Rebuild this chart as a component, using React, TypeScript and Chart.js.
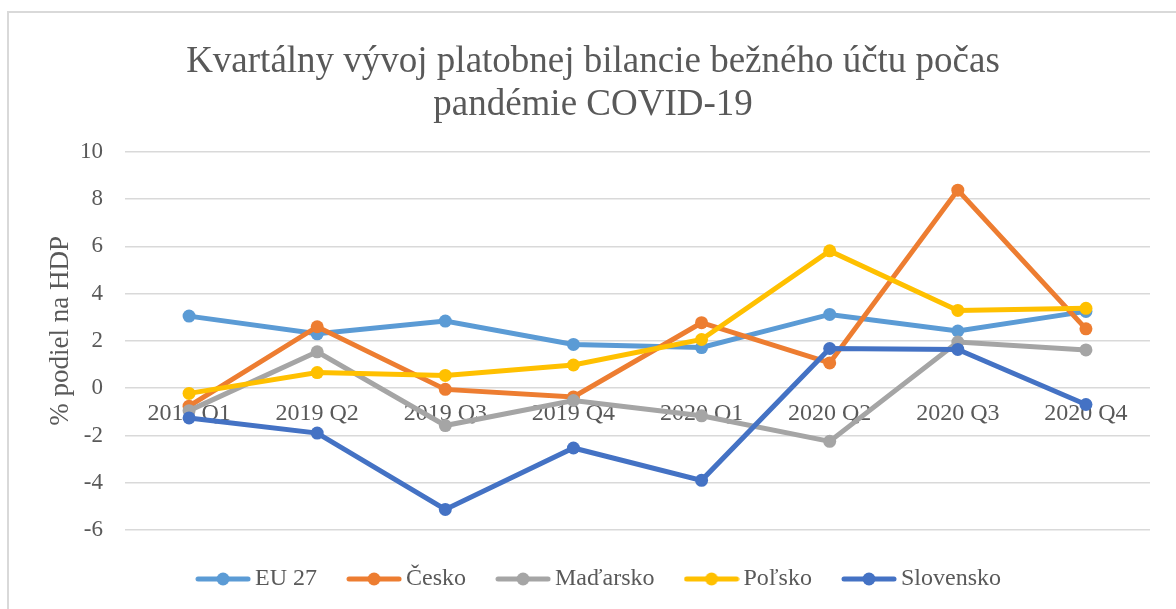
import React, { useEffect, useRef } from "react";
import { Chart, registerables } from "chart.js";

Chart.register(...registerables);

const categories = ["2019 Q1", "2019 Q2", "2019 Q3", "2019 Q4", "2020 Q1", "2020 Q2", "2020 Q3", "2020 Q4"];
const eu27 = [3.05, 2.3, 2.84, 1.85, 1.72, 3.12, 2.42, 3.25];
const cesko = [-0.76, 2.6, -0.05, -0.37, 2.77, 1.07, 8.38, 2.51];
const madarsko = [-0.95, 1.54, -1.58, -0.52, -1.17, -2.25, 1.95, 1.62];
const polsko = [-0.22, 0.66, 0.54, 0.98, 2.06, 5.81, 3.29, 3.38];
const slovensko = [-1.26, -1.9, -5.13, -2.53, -3.9, 1.68, 1.64, -0.69];

const seriesNames = ["EU 27", "Česko", "Maďarsko", "Poľsko", "Slovensko"];
const seriesValues = [eu27, cesko, madarsko, polsko, slovensko];
const seriesColors = ["#5B9BD5", "#ED7D31", "#A5A5A5", "#FFC000", "#4472C4"];

const titleLines = ["Kvartálny vývoj platobnej bilancie bežného účtu počas", "pandémie COVID-19"];
const yTitle = "\u00A0\u00A0\u00A0% podiel na HDP";

const FONT = "'Liberation Serif', 'Times New Roman', serif";
const TEXT = "#595959";

function makeMarker(color: string): HTMLCanvasElement {
  const c = document.createElement("canvas");
  c.width = 56;
  c.height = 16;
  const ctx = c.getContext("2d")!;
  ctx.strokeStyle = color;
  ctx.lineWidth = 5;
  ctx.lineCap = "round";
  ctx.beginPath();
  ctx.moveTo(3, 8);
  ctx.lineTo(53, 8);
  ctx.stroke();
  ctx.fillStyle = color;
  ctx.beginPath();
  ctx.arc(28, 8, 6.5, 0, Math.PI * 2);
  ctx.fill();
  return c;
}

const framePlugin = {
  id: "frame",
  beforeDraw(chart: any) {
    const ctx = chart.ctx;
    ctx.save();
    ctx.fillStyle = "#fff";
    ctx.fillRect(0, 0, chart.width, chart.height);
    ctx.strokeStyle = "#d9d9d9";
    ctx.lineWidth = 2;
    ctx.beginPath();
    ctx.moveTo(8, chart.height + 5);
    ctx.lineTo(8, 12);
    ctx.lineTo(chart.width + 5, 12);
    ctx.stroke();
    ctx.restore();
    if (chart.legend && !chart.legend._shifted) {
      chart.legend.left += 15;
      chart.legend.right += 15;
      chart.legend._shifted = true;
    }
    if (chart.titleBlock && !chart.titleBlock._shifted) {
      chart.titleBlock.left += 6;
      chart.titleBlock.right += 6;
      chart.titleBlock._shifted = true;
    }
  },
};

export default function App() {
  const ref = useRef<HTMLCanvasElement | null>(null);

  useEffect(() => {
    if (!ref.current) return;
    const markers = seriesColors.map(makeMarker);
    const chart = new Chart(ref.current, {
      type: "line",
      plugins: [framePlugin],
      data: {
        labels: categories,
        datasets: seriesNames.map((name, i) => ({
          label: name,
          data: seriesValues[i],
          borderColor: seriesColors[i],
          backgroundColor: seriesColors[i],
          pointBackgroundColor: seriesColors[i],
          pointBorderWidth: 0,
          pointRadius: 6.5,
          borderWidth: 5,
          tension: 0,
          order: seriesNames.length - i,
        })),
      },
      options: {
        responsive: false,
        animation: false,
        layout: { padding: { left: 24, right: 26, top: 0, bottom: 8 } },
        plugins: {
          tooltip: { enabled: false },
          title: {
            display: true,
            text: titleLines,
            color: TEXT,
            font: { family: FONT, size: 37, weight: "normal", lineHeight: 1.16 },
            padding: { top: 41, bottom: 25 },
          },
          legend: {
            position: "bottom",
            labels: {
              usePointStyle: true,
              pointStyleWidth: 40,
              padding: 37,
              color: TEXT,
              font: { family: FONT, size: 24 },
              generateLabels: (ch: any) => {
                const items = (Chart.defaults.plugins.legend.labels as any).generateLabels(ch);
                return items
                  .sort((a: any, b: any) => a.datasetIndex - b.datasetIndex)
                  .map((it: any) => ({ ...it, pointStyle: markers[it.datasetIndex] }));
              },
            },
          },
        },
        scales: {
          x: {
            type: "category",
            position: { y: 0 } as any,
            offset: true,
            grid: { display: false },
            border: { display: false },
            ticks: {
              color: TEXT,
              font: { family: FONT, size: 24 },
              padding: 3,
              maxRotation: 0,
              autoSkip: false,
            },
          },
          y: {
            min: -6,
            max: 10,
            afterFit: (scale: any) => {
              scale.width = 101;
            },
            ticks: {
              stepSize: 2,
              color: TEXT,
              font: { family: FONT, size: 23 },
              padding: 22,
            },
            grid: { color: "#d9d9d9", lineWidth: 1.5, drawTicks: false },
            border: { display: false },
            title: {
              display: true,
              text: yTitle,
              color: TEXT,
              font: { family: FONT, size: 27, lineHeight: 1.2 },
              padding: { top: 21, bottom: 0 },
            },
          },
        },
      },
    });
    return () => chart.destroy();
  }, []);

  return (
    <div style={{ position: "fixed", left: 0, top: 0, width: 1176, height: 609, overflow: "hidden", background: "#fff" }}>
      <canvas ref={ref} width={1176} height={609} style={{ position: "absolute", left: 0, top: 0, display: "block" }} />
    </div>
  );
}
